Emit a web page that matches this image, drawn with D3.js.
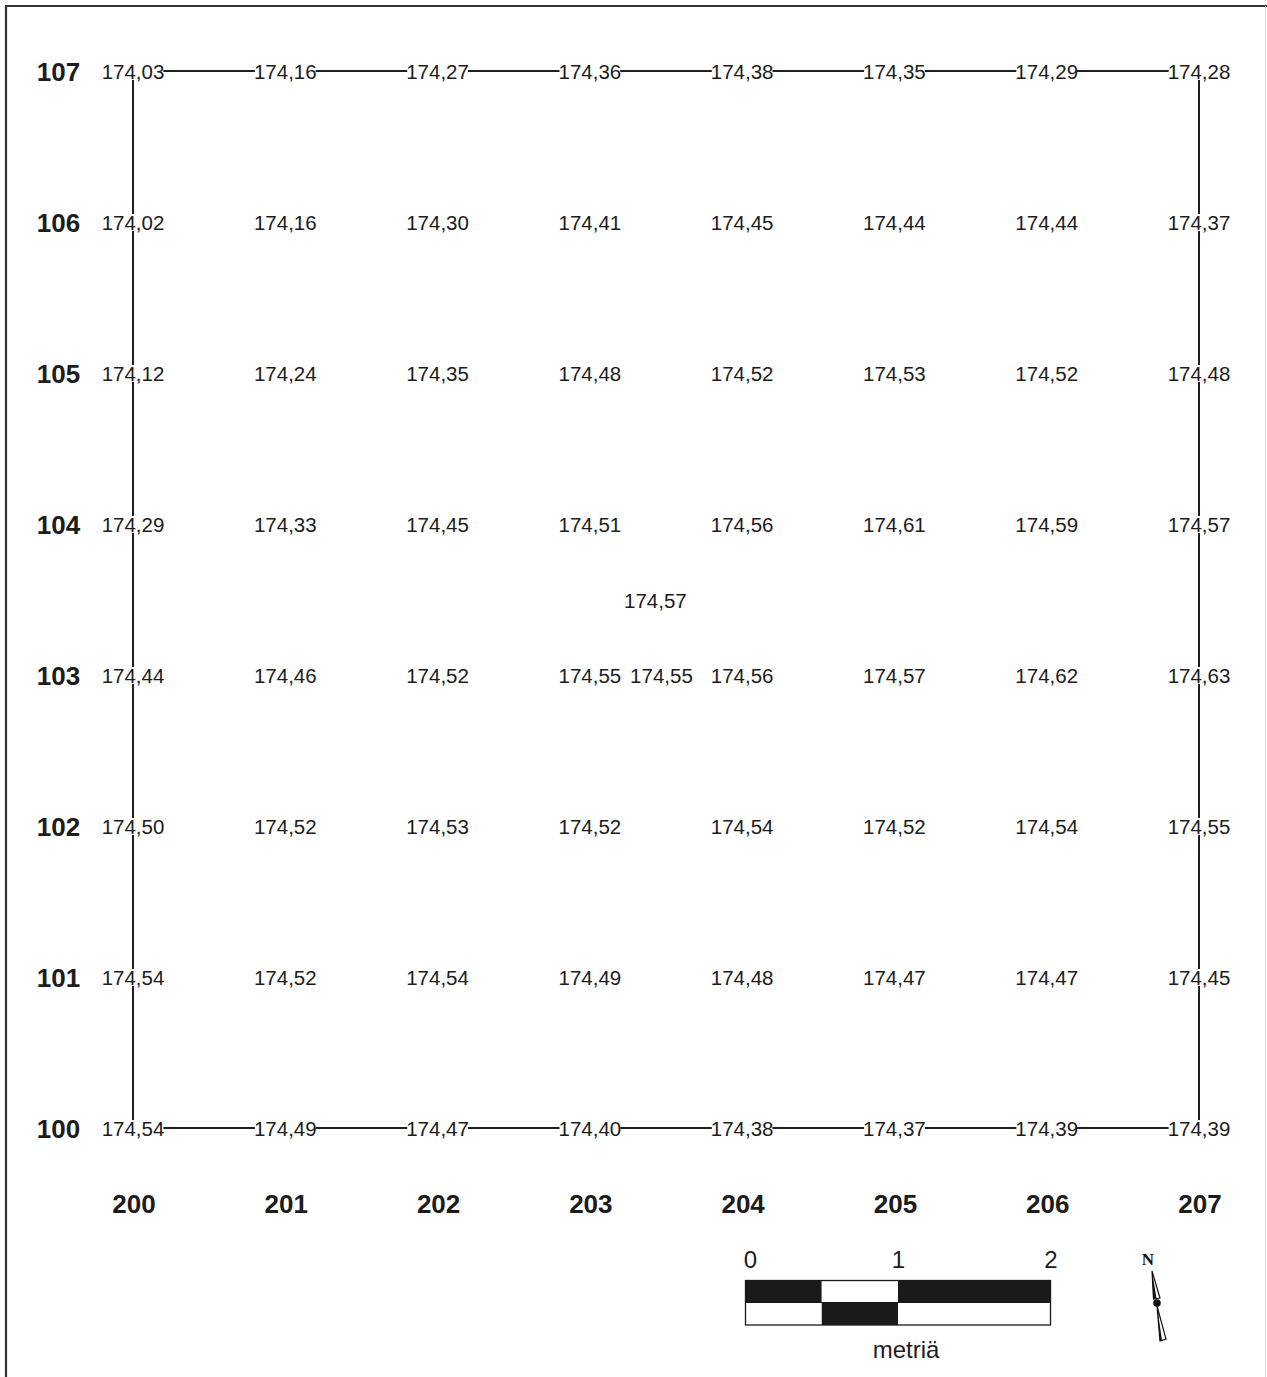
<!DOCTYPE html>
<html>
<head>
<meta charset="utf-8">
<script src="https://cdn.jsdelivr.net/npm/d3@7"></script>
<style>
  html, body { margin: 0; padding: 0; background: #fff; }
  svg { display: block; }
</style>
</head>
<body>
<svg id="chart" width="1267" height="1377"></svg>
<script>
// ---- Data ----
const columns = [200, 201, 202, 203, 204, 205, 206, 207];
const rows = [107, 106, 105, 104, 103, 102, 101, 100];
const row107 = ["174,03", "174,16", "174,27", "174,36", "174,38", "174,35", "174,29", "174,28"];
const row106 = ["174,02", "174,16", "174,30", "174,41", "174,45", "174,44", "174,44", "174,37"];
const row105 = ["174,12", "174,24", "174,35", "174,48", "174,52", "174,53", "174,52", "174,48"];
const row104 = ["174,29", "174,33", "174,45", "174,51", "174,56", "174,61", "174,59", "174,57"];
const row103 = ["174,44", "174,46", "174,52", "174,55", "174,56", "174,57", "174,62", "174,63"];
const row102 = ["174,50", "174,52", "174,53", "174,52", "174,54", "174,52", "174,54", "174,55"];
const row101 = ["174,54", "174,52", "174,54", "174,49", "174,48", "174,47", "174,47", "174,45"];
const row100 = ["174,54", "174,49", "174,47", "174,40", "174,38", "174,37", "174,39", "174,39"];
const rowValues = [row107, row106, row105, row104, row103, row102, row101, row100];
// extra measured points (between grid nodes)
const extraCols = [203.43, 203.47];
const extraRows = [103.5, 103];
const extraValues = ["174,57", "174,55"];
// scale bar
const scaleTicks = [0, 1, 2];
const scaleUnit = "metriä";

// ---- Layout ----
const svg = d3.select("#chart");
const ink = "#1f1f1f";
const textInk = "#1c1c1c";

const x = d3.scaleLinear().domain([200, 207]).range([133, 1199]);
const y = d3.scaleLinear().domain([100, 107]).range([1128, 71]);

// frame
svg.append("line").attr("x1", 6).attr("y1", 6).attr("x2", 1267).attr("y2", 6)
  .attr("stroke", "#333").attr("stroke-width", 2.2);
svg.append("line").attr("x1", 6).attr("y1", 5).attr("x2", 6).attr("y2", 1377)
  .attr("stroke", "#333").attr("stroke-width", 2.2);
svg.append("line").attr("x1", 1265.5).attr("y1", 6).attr("x2", 1265.5).attr("y2", 1377)
  .attr("stroke", "#d8d8d8").attr("stroke-width", 1);

// grid outline lines (top/bottom rows, first/last columns)
const g = svg.append("g");
const minC = d3.min(columns), maxC = d3.max(columns);
const minR = d3.min(rows), maxR = d3.max(rows);
[maxR, minR].forEach(r => {
  g.append("line").attr("x1", x(minC)).attr("x2", x(maxC))
    .attr("y1", y(r)).attr("y2", y(r))
    .attr("stroke", ink).attr("stroke-width", 2);
});
[minC, maxC].forEach(c => {
  g.append("line").attr("x1", x(c)).attr("x2", x(c))
    .attr("y1", y(maxR)).attr("y2", y(minR))
    .attr("stroke", ink).attr("stroke-width", 2);
});

// value labels
const valFont = 20.5;
const cells = [];
rows.forEach((r, i) => columns.forEach((c, j) => cells.push({ c, r, v: rowValues[i][j] })));
extraValues.forEach((v, k) => cells.push({ c: extraCols[k], r: extraRows[k], v }));

const knock = svg.append("g");
const vals = svg.append("g").selectAll("text").data(cells).join("text")
  .attr("x", d => x(d.c))
  .attr("y", d => y(d.r) + 1 + valFont * 0.36)
  .attr("text-anchor", "middle")
  .attr("font-family", "'Liberation Sans', Arial, sans-serif")
  .attr("font-size", valFont)
  .attr("fill", textInk)
  .text(d => d.v);
vals.each(function (d) {
  const b = this.getBBox();
  knock.append("rect")
    .attr("x", b.x + 1).attr("y", y(d.r) - 8)
    .attr("width", b.width - 2).attr("height", 17)
    .attr("fill", "#fff");
});

// row labels
const labFont = 26;
svg.append("g").selectAll("text").data(rows).join("text")
  .attr("x", 58.5)
  .attr("y", d => y(d) + 1 + labFont * 0.36)
  .attr("text-anchor", "middle")
  .attr("font-family", "'Liberation Sans', Arial, sans-serif")
  .attr("font-weight", "bold")
  .attr("font-size", labFont)
  .attr("fill", textInk)
  .text(d => d);

// column labels
svg.append("g").selectAll("text").data(columns).join("text")
  .attr("x", d => x(d) + 1)
  .attr("y", 1204 + labFont * 0.36)
  .attr("text-anchor", "middle")
  .attr("font-family", "'Liberation Sans', Arial, sans-serif")
  .attr("font-weight", "bold")
  .attr("font-size", labFont)
  .attr("fill", textInk)
  .text(d => d);

// ---- Scale bar ----
const sx = d3.scaleLinear().domain([0, 2]).range([745.5, 1050.5]);
const barTop = 1280.5, barMid = 1302.5, barBot = 1325;
const segs = [[0, 0.5], [0.5, 1], [1, 2]];
const sb = svg.append("g");
segs.forEach((s, i) => {
  sb.append("rect").attr("x", sx(s[0])).attr("y", barTop)
    .attr("width", sx(s[1]) - sx(s[0])).attr("height", barMid - barTop)
    .attr("fill", i % 2 === 0 ? "#1a1a1a" : "#fff");
  sb.append("rect").attr("x", sx(s[0])).attr("y", barMid)
    .attr("width", sx(s[1]) - sx(s[0])).attr("height", barBot - barMid)
    .attr("fill", i % 2 === 0 ? "#fff" : "#1a1a1a");
});
sb.append("rect").attr("x", sx(0)).attr("y", barTop)
  .attr("width", sx(2) - sx(0)).attr("height", barBot - barTop)
  .attr("fill", "none").attr("stroke", "#1a1a1a").attr("stroke-width", 1.3);
sb.append("line").attr("x1", sx(0)).attr("x2", sx(2)).attr("y1", barMid).attr("y2", barMid)
  .attr("stroke", "#1a1a1a").attr("stroke-width", 1);
sb.selectAll("text.tick").data(scaleTicks).join("text").attr("class", "tick")
  .attr("x", d => sx(d) + (d === 0 ? 5 : 0.5))
  .attr("y", 1268)
  .attr("text-anchor", "middle")
  .attr("font-family", "'Liberation Sans', Arial, sans-serif")
  .attr("font-size", 24)
  .attr("fill", textInk)
  .text(d => d);
sb.append("text")
  .attr("x", 906).attr("y", 1358)
  .attr("text-anchor", "middle")
  .attr("font-family", "'Liberation Sans', Arial, sans-serif")
  .attr("font-size", 24)
  .attr("fill", textInk)
  .text(scaleUnit);

// ---- North arrow ----
const na = svg.append("g");
na.append("text").attr("x", 1148).attr("y", 1265)
  .attr("text-anchor", "middle")
  .attr("font-family", "'Liberation Serif', 'DejaVu Serif', serif")
  .attr("font-weight", "bold").attr("font-size", 17)
  .attr("fill", "#111").text("N");
const line = d3.line();
na.append("path").attr("d", line([[1152, 1271], [1153.5, 1299], [1160, 1298]]) + "Z")
  .attr("fill", "#fff").attr("stroke", "#111").attr("stroke-width", 1.2);
na.append("path").attr("d", line([[1152, 1271], [1153.5, 1299], [1156.5, 1298.5]]) + "Z")
  .attr("fill", "#111");
na.append("circle").attr("cx", 1157).attr("cy", 1303).attr("r", 3.8).attr("fill", "#111");
na.append("path").attr("d", line([[1157, 1306], [1160, 1341], [1166, 1339]]) + "Z")
  .attr("fill", "#fff").attr("stroke", "#111").attr("stroke-width", 1.2);
na.append("path").attr("d", line([[1157, 1306], [1160, 1341], [1162, 1340.5]]) + "Z")
  .attr("fill", "#111");
</script>
</body>
</html>
